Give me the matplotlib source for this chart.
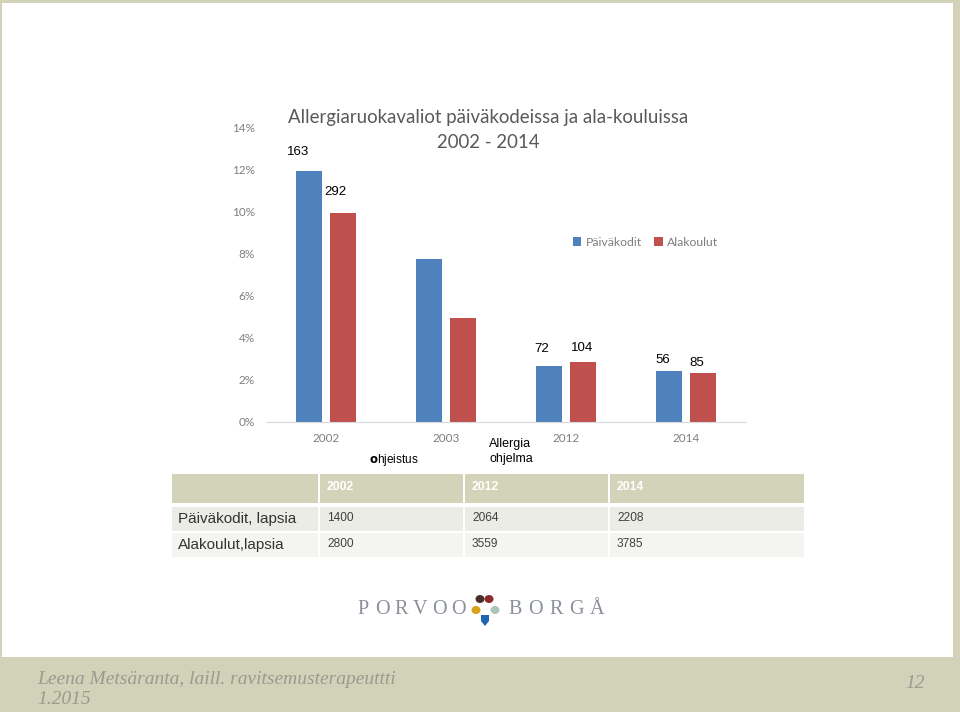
import matplotlib.pyplot as plt
from matplotlib.patches import Rectangle, Ellipse, Polygon
import numpy as np

# --- data ---
years = ['2002', '2003', '2012', '2014']
paivakodit_pct = [11.95, 7.75, 2.67, 2.45]
alakoulut_pct = [9.95, 4.95, 2.87, 2.35]
paivakodit_n = ['163', '', '72', '56']
alakoulut_n = ['292', '', '104', '85']

table_years = ['2002', '2012', '2014']
table_rows = ['Päiväkodit, lapsia', 'Alakoulut,lapsia']
table_vals = [['1400', '2064', '2208'],
              ['2800', '3559', '3785']]

W, H = 960, 712
BLUE = '#4f81bd'
RED = '#c0504d'
OLIVE = '#d2d2b9'
GREY = '#7f7f7f'

fig = plt.figure(figsize=(9.6, 7.12), dpi=100)
fig.patch.set_facecolor(OLIVE)

def fx(x):
    return x / W

def fy(y):
    return 1 - y / H

# white slide area
fig.add_artist(Rectangle((fx(2), fy(657)), fx(953) - fx(2), fy(3) - fy(657),
                         transform=fig.transFigure, facecolor='white',
                         edgecolor='none', zorder=0))

# --- chart ---
ax = fig.add_axes([fx(266), fy(422), fx(746) - fx(266), fy(128) - fy(422)])
ax.set_facecolor('none')
x = np.arange(len(years))
w = 0.22
off = 0.142
ax.bar(x - off, paivakodit_pct, w, color=BLUE, label='Päiväkodit')
ax.bar(x + off, alakoulut_pct, w, color=RED, label='Alakoulut')
ax.set_xlim(-0.5, 3.5)
ax.set_ylim(0, 14)
ax.set_yticks(range(0, 15, 2))
ax.set_yticklabels([f'{v}%' for v in range(0, 15, 2)])
ax.set_xticks(x)
ax.set_xticklabels(years)
ax.tick_params(length=0, colors=GREY, labelsize=8.5, pad=8)
for lab in ax.get_xticklabels() + ax.get_yticklabels():
    lab.set_fontfamily('Lato')
for s in ['top', 'right', 'left']:
    ax.spines[s].set_visible(False)
ax.spines['bottom'].set_color('#d9d9d9')

# count labels, placed relative to their bars (x shift in categories, height in %)
lab_font = dict(family='Liberation Sans', fontsize=9.5, color='black', ha='center', va='center')
pk_shift = [(-0.09, 0.9), None, (-0.06, 0.8), (-0.055, 0.5)]
ak_shift = [(-0.06, 1.0), None, (-0.01, 0.65), (-0.05, 0.46)]
for i in range(len(years)):
    if pk_shift[i]:
        dx, dy = pk_shift[i]
        ax.text(x[i] - off + dx, paivakodit_pct[i] + dy, paivakodit_n[i], **lab_font)
    if ak_shift[i]:
        dx, dy = ak_shift[i]
        ax.text(x[i] + off + dx, alakoulut_pct[i] + dy, alakoulut_n[i], **lab_font)

ax.legend(loc='center right', frameon=False,
          ncol=2, handlelength=0.7, handleheight=0.7,
          handletextpad=0.35, columnspacing=1.0, labelcolor=GREY,
          prop={'family': 'Lato', 'size': 8.8},
          bbox_to_anchor=(fx(729), fy(242)), bbox_transform=fig.transFigure)

fig.text(fx(488), fy(117), 'Allergiaruokavaliot päiväkodeissa ja ala-kouluissa',
         ha='center', va='center', fontsize=13.4, color='#595959', family='Lato')
fig.text(fx(488), fy(143), '2002 - 2014', ha='center', va='center',
         fontsize=13.4, color='#595959', family='Lato')

fig.text(fx(369), fy(460), r'$\mathbf{o}$hjeistus', ha='left', va='center',
         fontsize=8.5, family='Liberation Sans')
fig.text(fx(489), fy(444), 'Allergia', ha='left', va='center', fontsize=9, family='Liberation Sans')
fig.text(fx(489), fy(459), 'ohjelma', ha='left', va='center', fontsize=9, family='Liberation Sans')

# --- table ---
col_edges = [172, 319, 464, 609, 805]
row_edges = [(474, 503), (507, 531), (533, 557)]
row_colors = ['#d3d3b9', '#ecece6', '#f4f4f0']
for (y0, y1), c in zip(row_edges, row_colors):
    for i in range(len(col_edges) - 1):
        x0 = col_edges[i] + (1 if i else 0)
        x1 = col_edges[i + 1] - 1
        fig.add_artist(Rectangle((fx(x0), fy(y1)), fx(x1) - fx(x0), fy(y0) - fy(y1),
                                 transform=fig.transFigure, facecolor=c,
                                 edgecolor='none', zorder=1))
for j, yr in enumerate(table_years):
    fig.text(fx(col_edges[j + 1] + 8), fy(487), yr, ha='left', va='center',
             fontsize=8.8, fontweight='bold', color='white', family='Liberation Sans')
for r, name in enumerate(table_rows):
    yc = (row_edges[r + 1][0] + row_edges[r + 1][1]) / 2
    fig.text(fx(178), fy(yc), name, ha='left', va='center', fontsize=11,
             color='#333333', family='Liberation Sans')
    for j, v in enumerate(table_vals[r]):
        fig.text(fx(col_edges[j + 1] + 8), fy(yc - 1), v, ha='left', va='center',
                 fontsize=8.6, color='#404040', family='Liberation Sans')

# --- logo ---
logo_font = dict(family='Liberation Serif', fontsize=14.5, color='#8a8f99', va='center', ha='center')
for i, ch in enumerate('PORVOO'):
    fig.text(fx(363 + i * 19), fy(610), ch, **logo_font)
for i, ch in enumerate('BORGÅ'):
    fig.text(fx(515 + i * 20.5), fy(609), ch, **logo_font)
shapes = [((480, 599), '#4a2e2a'), ((489, 599), '#8b2a2a'),
          ((476, 610), '#d9a21b'), ((495, 610), '#a9c6b8')]
for (cx, cy), c in shapes:
    fig.add_artist(Ellipse((fx(cx), fy(cy)), fx(9), fx(8) * W / H,
                           transform=fig.transFigure, facecolor=c, edgecolor='none', zorder=2))
fig.add_artist(Polygon([(fx(481), fy(615)), (fx(489), fy(615)), (fx(489), fy(621)),
                        (fx(485), fy(626)), (fx(481), fy(621))], closed=True,
                       transform=fig.transFigure, facecolor='#1e64b4', edgecolor='none', zorder=2))

# --- footer ---
foot = dict(family='Liberation Serif', style='italic', color='#9a9a8e', va='center')
fig.text(fx(37), fy(679), 'Leena Metsäranta, laill. ravitsemusterapeuttti', fontsize=14, **foot)
fig.text(fx(37), fy(700), '1.2015', fontsize=14, **foot)
fig.text(fx(925), fy(684), '12', fontsize=14, ha='right', **foot)

fig.savefig('out.png', dpi=100, facecolor=fig.get_facecolor())
